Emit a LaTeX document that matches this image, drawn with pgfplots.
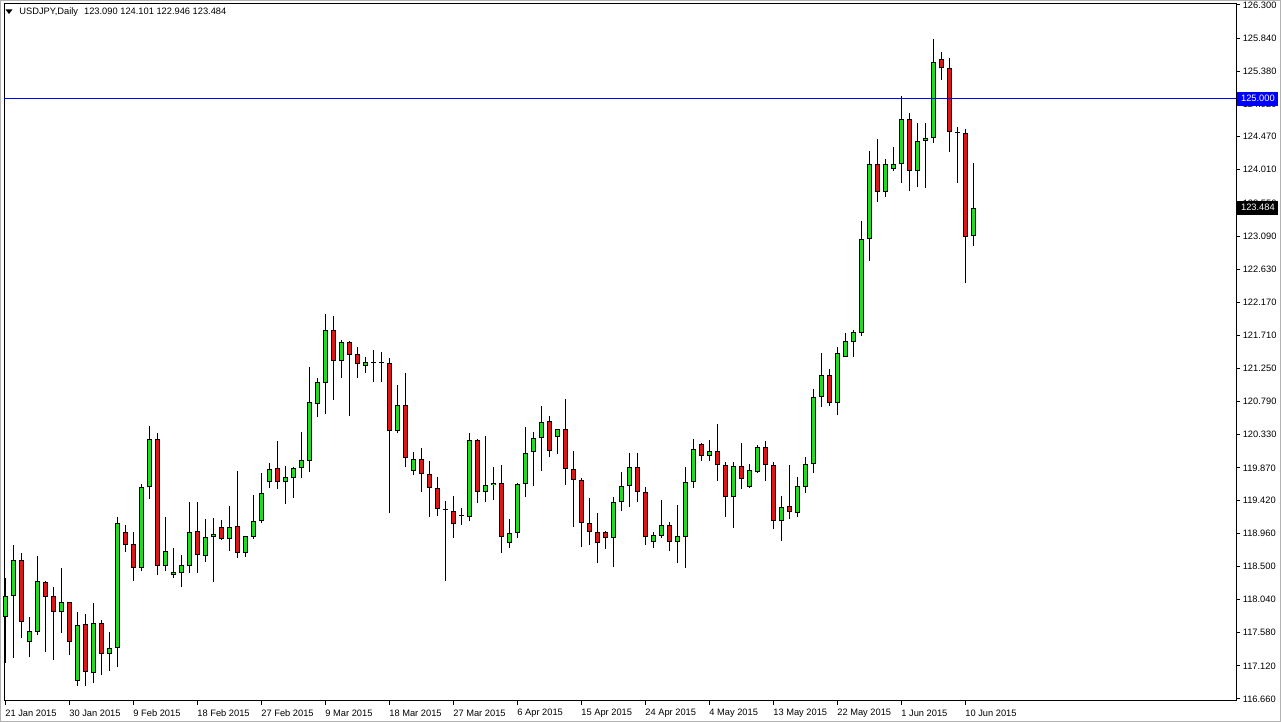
\documentclass[border=0pt]{standalone}
\usepackage{fontspec}
\setmainfont{Liberation Sans}
\usepackage{pgfplots}
\usepackage{pgfplotstable}
\pgfplotsset{compat=1.18}

\definecolor{bull}{RGB}{30,222,30}
\definecolor{bear}{RGB}{222,22,22}
\definecolor{mtblue}{RGB}{0,0,255}
\newcommand\mtfont{\fontsize{4.65pt}{5.5pt}\selectfont}

% daily candles, i = bar number (8 px per bar), o h l c
\pgfplotstableread{
i o h l c
0 117.80 118.34 117.16 118.09
1 118.09 118.80 117.23 118.59
3 117.45 117.80 117.24 117.60
4 117.59 118.65 117.55 118.30
7 117.87 118.48 117.58 118.01
9 116.91 117.87 116.84 117.69
11 117.02 117.99 116.88 117.72
13 117.285 117.59 117.05 117.37
14 117.37 119.19 117.10 119.10
17 118.48 119.65 118.44 119.60
18 119.60 120.45 119.44 120.27
20 118.51 119.19 118.44 118.72
21 118.38 118.76 118.34 118.42
22 118.41 118.66 118.22 118.52
23 118.51 119.40 118.41 118.98
25 118.65 119.16 118.56 118.91
26 118.91 119.17 118.285 118.95
28 118.88 119.34 118.72 119.05
30 118.69 118.93 118.63 118.92
31 118.91 119.49 118.88 119.13
32 119.13 119.80 119.10 119.52
33 119.67 119.94 119.59 119.85
35 119.67 119.90 119.37 119.74
36 119.73 119.88 119.45 119.87
37 119.87 120.37 119.73 119.98
38 119.965 121.27 119.81 120.785
39 120.76 121.12 120.58 121.06
40 121.05 122.01 120.62 121.785
42 121.35 121.65 121.12 121.62
45 121.285 121.41 121.19 121.34
46 121.33 121.51 121.06 121.34
47 121.33 121.48 121.06 121.33
49 120.38 121.02 120.35 120.74
51 119.83 120.09 119.77 119.99
55 119.285 119.41 118.30 119.285
57 119.20 119.31 119.08 119.20
58 119.19 120.35 119.13 120.26
60 119.535 120.31 119.40 119.63
61 119.63 119.88 119.42 119.66
63 118.83 119.16 118.76 118.965
64 118.965 119.66 118.90 119.65
65 119.65 120.44 119.465 120.08
66 120.09 120.37 119.62 120.285
67 120.285 120.73 119.83 120.51
69 120.30 120.41 120.06 120.41
76 118.90 119.47 118.49 119.40
77 119.40 119.81 119.27 119.62
78 119.62 120.08 119.33 119.88
81 118.84 118.98 118.76 118.94
82 118.925 119.42 118.90 119.08
84 118.84 119.35 118.55 118.925
85 118.91 119.88 118.48 119.67
86 119.67 120.27 119.59 120.13
88 120.035 120.26 119.965 120.10
91 119.465 119.95 119.035 119.90
93 119.605 119.92 119.59 119.84
94 119.81 120.19 119.80 120.16
97 119.13 119.48 118.85 119.33
99 119.24 119.74 119.19 119.62
100 119.605 120.02 119.52 119.92
101 119.92 120.97 119.80 120.855
102 120.855 121.465 120.715 121.16
104 120.77 121.55 120.60 121.465
105 121.41 121.74 121.41 121.63
106 121.62 121.785 121.41 121.76
107 121.74 123.30 121.70 123.05
108 123.05 124.27 122.74 124.09
110 123.70 124.16 123.63 124.09
111 124.02 124.33 123.99 124.09
112 124.09 125.035 123.83 124.715
114 123.99 124.66 123.77 124.41
115 124.41 124.66 123.76 124.45
116 124.45 125.83 124.38 125.51
121 123.090 124.101 122.946 123.484
}\up

\pgfplotstableread{
i o h l c
2 118.59 118.69 117.51 117.73
5 118.285 118.30 117.31 118.08
6 118.09 118.22 117.20 117.87
8 118.01 118.01 117.27 117.45
10 117.70 117.84 116.84 117.04
12 117.72 117.76 116.99 117.285
15 118.98 119.08 118.70 118.80
16 118.81 118.98 118.30 118.48
19 120.27 120.35 118.38 118.51
24 118.99 119.40 118.41 118.66
27 119.05 119.15 118.87 118.88
29 119.06 119.83 118.62 118.69
34 119.87 120.24 119.58 119.67
41 121.785 121.98 120.81 121.35
43 121.62 121.63 120.59 121.44
44 121.45 121.55 121.12 121.31
48 121.33 121.40 119.24 120.38
50 120.74 121.19 119.88 120.01
52 119.99 120.15 119.535 119.785
53 119.785 119.965 119.19 119.59
54 119.59 119.74 119.20 119.30
56 119.27 119.48 118.90 119.09
59 120.26 120.27 119.38 119.535
62 119.66 119.91 118.69 118.91
68 120.52 120.59 120.02 120.10
70 120.41 120.83 119.63 119.855
71 119.855 120.10 119.05 119.70
72 119.70 119.73 118.77 119.10
73 119.10 119.45 118.80 118.98
74 118.98 119.24 118.55 118.83
75 118.98 118.99 118.74 118.90
79 119.88 120.08 119.40 119.535
80 119.535 119.60 118.80 118.91
83 119.08 119.12 118.715 118.84
87 120.20 120.215 119.965 120.035
89 120.10 120.48 119.69 119.91
90 119.91 119.95 119.19 119.465
92 119.90 120.215 119.58 119.715
95 120.16 120.245 119.69 119.91
96 119.91 119.95 119.02 119.13
98 119.34 119.91 119.16 119.26
103 121.16 121.24 120.73 120.77
109 124.09 124.44 123.56 123.70
113 124.715 124.80 123.715 123.99
117 125.55 125.645 125.26 125.42
118 125.42 125.56 124.26 124.535
119 124.53 124.60 123.83 124.52
120 124.52 124.58 122.44 123.08
}\down

\pgfplotsset{
  bar/.style={draw=none, mark=none, forget plot,
    error bars/y dir=plus, error bars/y explicit, error bars/error mark=none,
    error bars/error bar style={draw=#1, line cap=butt}},
}

\begin{document}
\begin{tikzpicture}
\useasboundingbox (-2pt,-10.5pt) rectangle (638.5pt,350.5pt);
\begin{axis}[
  at={(0,0)}, anchor=south west,
  scale only axis, width=616pt, height=348.5pt,
  xmin=-0.125, xmax=153.875, ymin=116.632, ymax=126.313,
  clip=false,
  axis line style={black, line width=0.5pt},
  tick style={black, line width=0.5pt},
  tick align=outside, major tick length=2pt,
  xtick pos=bottom, ytick pos=right, yticklabel pos=right,
  xtick={0,8,...,120},
  xticklabels={21 Jan 2015, 30 Jan 2015, 9 Feb 2015, 18 Feb 2015, 27 Feb 2015,
    9 Mar 2015, 18 Mar 2015, 27 Mar 2015, 6 Apr 2015, 15 Apr 2015, 24 Apr 2015,
    4 May 2015, 13 May 2015, 22 May 2015, 1 Jun 2015, 10 Jun 2015},
  ytick={116.66,117.12,117.58,118.04,118.50,118.96,119.42,119.87,120.33,120.79,
    121.25,121.71,122.17,122.63,123.09,123.55,124.01,124.47,124.92,125.38,125.84,126.30},
  scaled y ticks=false,
  tick label style={font=\mtfont, inner sep=0pt},
  xticklabel style={anchor=west, yshift=-4.2pt, xshift=0pt},
  yticklabel style={anchor=west, xshift=1.2pt,
    /pgf/number format/fixed, /pgf/number format/fixed zerofill,
    /pgf/number format/precision=3, /pgf/number format/assume math mode=true},
]
% wicks
\addplot[bar=black, error bars/error bar style={line width=0.5pt}]
  table[x=i, y=l, y error plus expr=\thisrow{h}-\thisrow{l}] {\up};
\addplot[bar=black, error bars/error bar style={line width=0.5pt}]
  table[x=i, y=l, y error plus expr=\thisrow{h}-\thisrow{l}] {\down};
% body outlines
\addplot[bar=black, error bars/error bar style={line width=2.5pt}]
  table[x=i, y=o, y error plus expr={max(\thisrow{c}-\thisrow{o},0.014)}] {\up};
\addplot[bar=black, error bars/error bar style={line width=2.5pt}]
  table[x=i, y=c, y error plus expr={max(\thisrow{o}-\thisrow{c},0.014)}] {\down};
% body fills
\addplot[bar=bull, error bars/error bar style={line width=1.5pt}]
  table[x=i, y expr=\thisrow{o}+0.014, y error plus expr={max(\thisrow{c}-\thisrow{o}-0.028,0)}] {\up};
\addplot[bar=bear, error bars/error bar style={line width=1.5pt}]
  table[x=i, y expr=\thisrow{c}+0.014, y error plus expr={max(\thisrow{o}-\thisrow{c}-0.028,0)}] {\down};
% price level line
\addplot[mtblue, line width=0.5pt, mark=none, forget plot] coordinates {(-0.125,125) (153.875,125)};
\coordinate (lvl) at (axis cs:153.875,125);
\coordinate (bid) at (axis cs:153.875,123.484);
\end{axis}
\node[fill=mtblue, text=white, font=\mtfont, anchor=west, inner sep=0pt,
  minimum width=20.5pt, minimum height=7pt, xshift=0.5pt] at (lvl) {125.000};
\node[fill=black, text=white, font=\mtfont, anchor=west, inner sep=0pt,
  minimum width=20.5pt, minimum height=7pt, xshift=0.5pt] at (bid) {123.484};
\begin{scope}[x=0.5pt, y=-0.5pt, shift={(-2pt,350.5pt)}]
  \fill[black] (5.5,9.5) -- (12.5,9.5) -- (9,14) -- cycle;
  \node[font=\mtfont, anchor=west, inner sep=0pt] at (19,12)
    {USDJPY,Daily\hspace{3pt}123.090 124.101 122.946 123.484};
  \draw[gray!60, line width=0.5pt] (0.5,0.5) rectangle (1280.5,721.5);
\end{scope}
\end{tikzpicture}
\end{document}
